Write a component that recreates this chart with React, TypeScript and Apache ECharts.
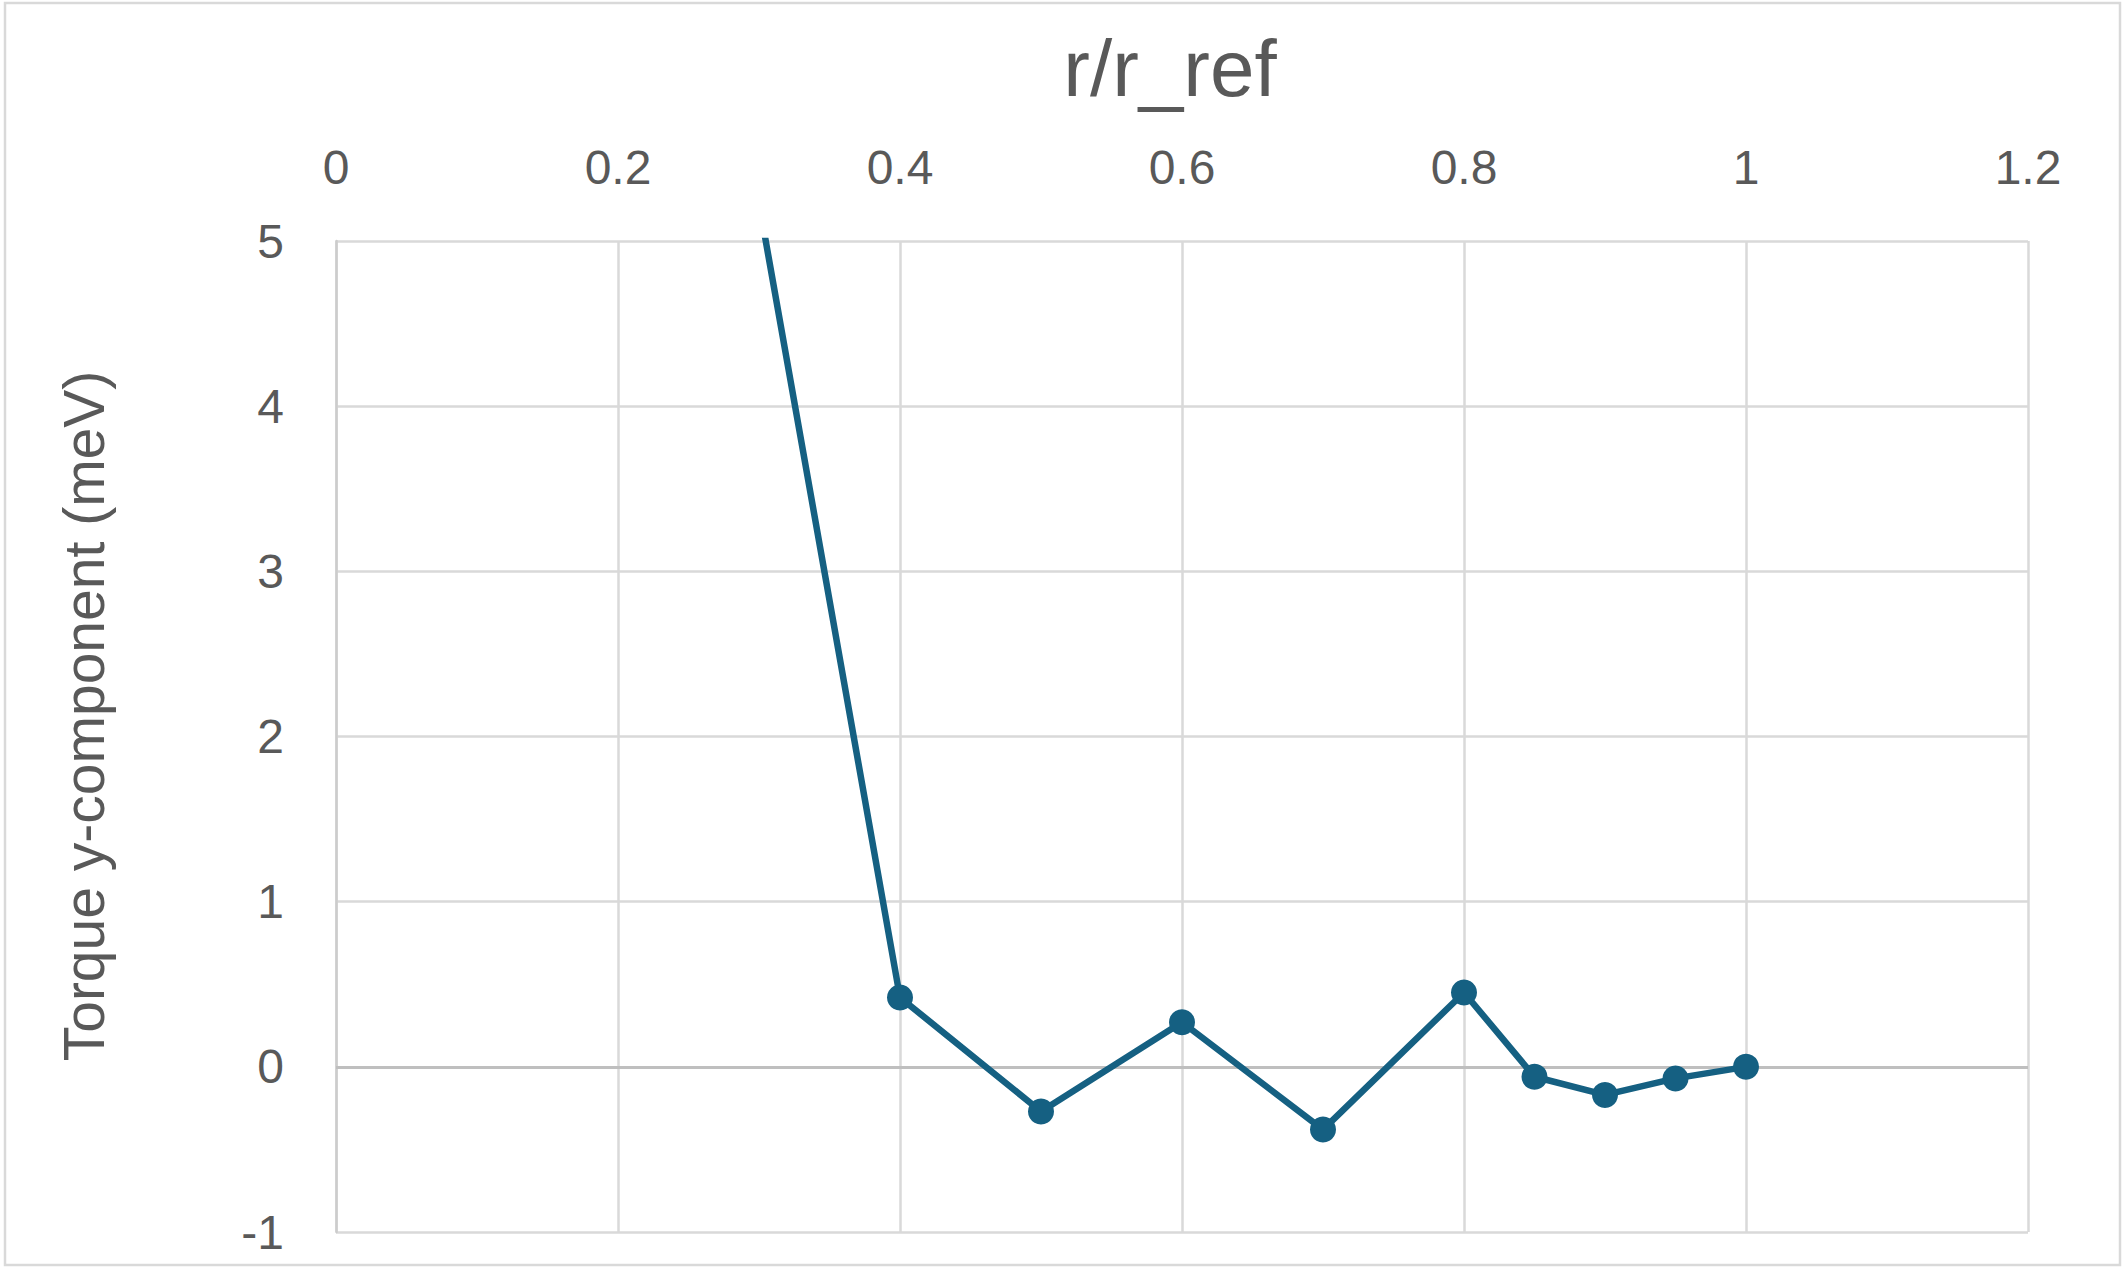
import React, { useEffect, useRef } from "react";
import * as echarts from "echarts";

const xValues = [0.3, 0.4, 0.5, 0.6, 0.7, 0.8, 0.85, 0.9, 0.95, 1.0];
const yValues = [5.23, 0.42, -0.27, 0.27, -0.38, 0.45, -0.06, -0.17, -0.07, 0.0];
const xTitle = "r/r_ref";
const yTitle = "Torque y-component (meV)";

const TEXT = "#595959";
const GRID = "#d9d9d9";
const LINE = "#156082";
const FONT = "Liberation Sans, Arial, sans-serif";

export default function App() {
  const ref = useRef<HTMLDivElement>(null);
  useEffect(() => {
    if (!ref.current) return;
    const chart = echarts.init(ref.current, undefined, { renderer: "svg" });
    const data = xValues.map((x, i) => [x, yValues[i]]);
    chart.setOption({
      animation: false,
      backgroundColor: "#ffffff",
      textStyle: { fontFamily: FONT },
      grid: { left: 336, right: 98, top: 241, bottom: 42, containLabel: false },
      graphic: [
        {
          type: "rect",
          shape: { x: 5, y: 3, width: 2115, height: 1262 },
          style: { fill: "none", stroke: GRID, lineWidth: 2.5 },
          silent: true,
        },
        {
          type: "text",
          x: 1170,
          y: 68,
          style: {
            text: xTitle,
            fontSize: 80,
            fontFamily: FONT,
            fill: TEXT,
            textAlign: "center",
            textVerticalAlign: "middle",
          },
        },
        {
          type: "text",
          x: 84,
          y: 716,
          rotation: Math.PI / 2,
          style: {
            text: yTitle,
            fontSize: 57,
            fontFamily: FONT,
            fill: TEXT,
            textAlign: "center",
            textVerticalAlign: "middle",
          },
        },
      ],
      xAxis: {
        type: "value",
        position: "top",
        min: 0,
        max: 1.2,
        interval: 0.2,
        axisLine: { show: false },
        axisTick: { show: false },
        axisLabel: { color: TEXT, fontSize: 48, margin: 50, fontFamily: FONT },
        splitLine: { show: true, lineStyle: { color: GRID, width: 2.5 } },
      },
      yAxis: {
        type: "value",
        min: -1,
        max: 5,
        interval: 1,
        axisLine: { show: true, onZero: false, lineStyle: { color: "#cccccc", width: 2.5 } },
        axisTick: { show: false },
        axisLabel: { color: TEXT, fontSize: 48, margin: 52, fontFamily: FONT },
        splitLine: { show: true, lineStyle: { color: GRID, width: 2.5 } },
      },
      series: [
        {
          type: "line",
          data,
          clip: true,
          symbol: "circle",
          symbolSize: 26,
          itemStyle: { color: LINE },
          lineStyle: { color: LINE, width: 6.5 },
          z: 5,
          markLine: {
            silent: true,
            symbol: "none",
            label: { show: false },
            lineStyle: { color: "#bfbfbf", width: 3, type: "solid" },
            data: [{ yAxis: 0 }],
            z: 1,
          },
        },
      ],
    });
    return () => chart.dispose();
  }, []);
  return (
    <div
      ref={ref}
      style={{ position: "absolute", left: 0, top: 0, width: 2126, height: 1274 }}
    />
  );
}
